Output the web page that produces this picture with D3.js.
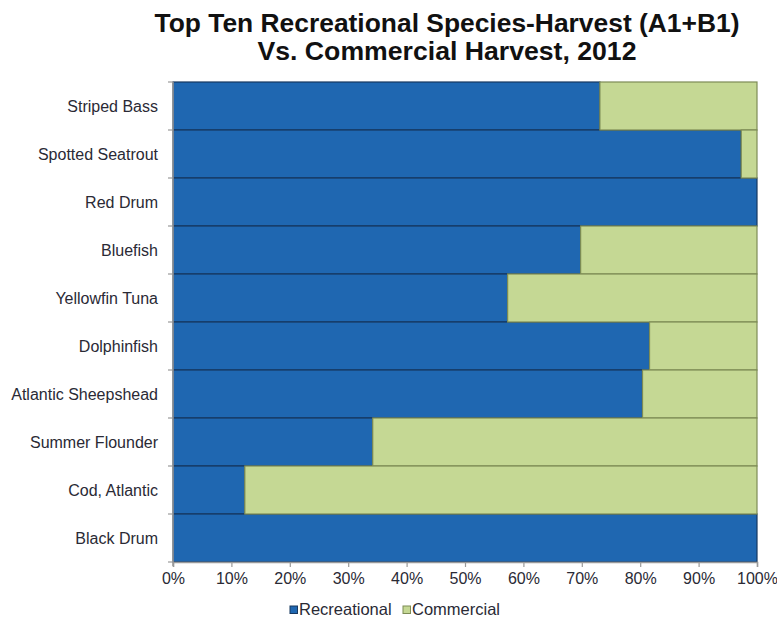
<!DOCTYPE html>
<html>
<head>
<meta charset="utf-8">
<script src="https://cdn.jsdelivr.net/npm/d3@7"></script>
<style>
  html, body { margin: 0; padding: 0; background: #fff; }
  svg { display: block; }
</style>
</head>
<body>
<svg id="chart" width="777" height="618"></svg>
<script>
// Species, top to bottom
const species = [
  "Striped Bass", "Spotted Seatrout", "Red Drum", "Bluefish", "Yellowfin Tuna",
  "Dolphinfish", "Atlantic Sheepshead", "Summer Flounder", "Cod, Atlantic", "Black Drum"
];
// Share of total harvest, percent
const recreational = [73.1, 97.3, 100, 69.8, 57.3, 81.6, 80.4, 34.2, 12.3, 100];
const commercial   = [26.9, 2.7, 0, 30.2, 42.7, 18.4, 19.6, 65.8, 87.7, 0];
const seriesNames = ["Recreational", "Commercial"];
const xTicks = [0, 10, 20, 30, 40, 50, 60, 70, 80, 90, 100];
const titleLines = ["Top Ten Recreational Species-Harvest (A1+B1)", "Vs. Commercial Harvest, 2012"];

const fills = { Recreational: "#1f67b1", Commercial: "#c5d894" };
const strokes = { Recreational: "#17385f", Commercial: "#7d8c55" };
const font = "Liberation Sans, Arial, sans-serif";
const textColor = "#2a2a35";

const svg = d3.select("#chart");
const margin = { left: 173, right: 20, top: 82, bottom: 56 };
const W = 777, H = 618;

const x = d3.scaleLinear().domain([0, 100]).range([margin.left, W - margin.right]);
const y = d3.scaleBand().domain(species).range([margin.top, H - margin.bottom]).padding(0);

// Title
const title = svg.append("g")
  .attr("font-family", font)
  .attr("font-weight", "bold")
  .attr("fill", "#111")
  .attr("text-anchor", "middle");
title.selectAll("text").data(titleLines).join("text")
  .attr("x", 447)
  .attr("y", (d, i) => 32 + i * 28)
  .attr("font-size", 25)
  .attr("textLength", (d, i) => i === 0 ? 585 : 379)
  .attr("lengthAdjust", "spacingAndGlyphs")
  .text(d => d);

// Stacked data
const rows = species.map((s, i) => ({ species: s, Recreational: recreational[i], Commercial: commercial[i] }));
const stacked = d3.stack().keys(seriesNames)(rows);

const layers = svg.append("g").selectAll("g").data(stacked).join("g")
  .attr("fill", d => fills[d.key])
  .attr("stroke", d => strokes[d.key])
  .attr("stroke-width", 1.2);

layers.selectAll("rect").data(d => d.filter(p => p[1] - p[0] > 0)).join("rect")
  .attr("x", d => x(d[0]))
  .attr("y", d => y(d.data.species))
  .attr("width", d => x(d[1]) - x(d[0]))
  .attr("height", y.bandwidth());

// Y axis: ticks at category boundaries
const yAxisG = svg.append("g");
yAxisG.append("line")
  .attr("x1", margin.left).attr("x2", margin.left)
  .attr("y1", margin.top).attr("y2", H - margin.bottom + 4)
  .attr("stroke", "#9a9a9a").attr("stroke-width", 1.5);
const boundaries = species.map(s => y(s)).concat([y.range()[1]]);
yAxisG.selectAll("line.tk").data(boundaries).join("line")
  .attr("class", "tk")
  .attr("x1", margin.left - 5).attr("x2", margin.left)
  .attr("y1", d => d).attr("y2", d => d)
  .attr("stroke", "#9a9a9a").attr("stroke-width", 1.2);
yAxisG.selectAll("text").data(species).join("text")
  .attr("x", 158)
  .attr("y", d => y(d) + y.bandwidth() / 2)
  .attr("dy", "0.35em")
  .attr("text-anchor", "end")
  .attr("font-family", font)
  .attr("font-size", 16)
  .attr("fill", textColor)
  .text(d => d);

// X axis
const xAxis = d3.axisBottom(x).tickValues(xTicks).tickFormat(d => d + "%").tickSize(5).tickPadding(6);
const xg = svg.append("g").attr("transform", `translate(0,${H - margin.bottom})`).call(xAxis);
xg.select(".domain").attr("stroke", "#9a9a9a").attr("stroke-width", 1.5);
xg.selectAll(".tick line").attr("stroke", "#9a9a9a").attr("stroke-width", 1.2);
xg.selectAll(".tick text")
  .attr("font-family", font)
  .attr("font-size", 16)
  .attr("fill", textColor);

// Legend
const legendX = [290, 403];
const legend = svg.append("g").selectAll("g").data(seriesNames).join("g")
  .attr("transform", (d, i) => `translate(${legendX[i]},606)`);
legend.append("rect")
  .attr("width", 7.5).attr("height", 7.5)
  .attr("fill", d => fills[d])
  .attr("stroke", d => strokes[d]).attr("stroke-width", 1);
legend.append("text")
  .attr("x", 9).attr("y", 8.5)
  .attr("font-family", font)
  .attr("font-size", 16.5)
  .attr("fill", textColor)
  .text(d => d);
</script>
</body>
</html>
